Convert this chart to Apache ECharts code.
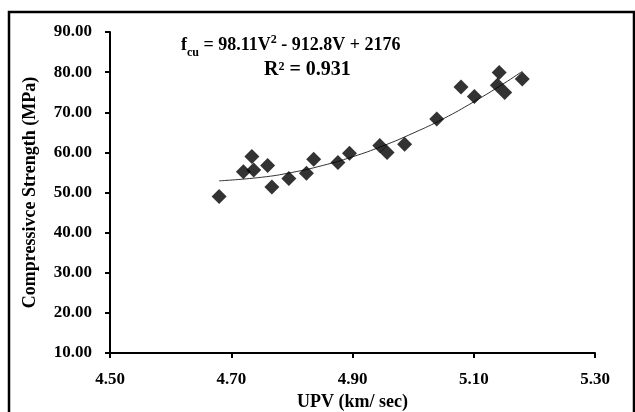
<!DOCTYPE html>
<html><head><meta charset="utf-8">
<script src="https://cdn.jsdelivr.net/npm/echarts@6/dist/echarts.min.js"></script>
<style>html,body{margin:0;padding:0;background:#fff;}#c{width:635px;height:412px;}</style>
</head><body><div id="c"></div>
<script>
// Measured data (UPV km/s, compressive strength MPa)
const upv = [4.68, 4.72, 4.734, 4.737, 4.76, 4.767, 4.795, 4.824, 4.836, 4.876, 4.895, 4.945, 4.957, 4.986, 5.039, 5.079, 5.101, 5.142, 5.139, 5.151, 5.18];
const strength = [49.0, 55.2, 59.0, 55.6, 56.7, 51.4, 53.5, 54.8, 58.3, 57.5, 59.8, 61.7, 60.0, 62.0, 68.3, 76.3, 73.9, 79.9, 76.7, 74.9, 78.3];
// Trend line points
const trendX = [4.68, 4.75, 4.80, 4.85, 4.90, 4.95, 5.00, 5.05, 5.10, 5.15, 5.18];
const trendY = [52.9, 53.8, 55.0, 56.7, 58.9, 61.6, 64.8, 68.4, 72.6, 77.2, 80.2];
const xTicks = [4.50, 4.70, 4.90, 5.10, 5.30];
const yTicks = [10, 20, 30, 40, 50, 60, 70, 80, 90];

const FF = '"Liberation Serif", "Times New Roman", serif';
const chart = echarts.init(document.getElementById('c'));
chart.setOption({
  animation: false,
  backgroundColor: '#fff',
  grid: { left: 110, right: 40, top: 32, bottom: 59, containLabel: false, outerBoundsMode: 'none' },
  xAxis: {
    type: 'value', min: xTicks[0], max: xTicks[xTicks.length - 1], interval: 0.2,
    splitLine: { show: false },
    axisLine: { onZero: false, lineStyle: { color: '#000', width: 2 } },
    axisTick: { show: true, length: 5, lineStyle: { color: '#000', width: 2 } },
    axisLabel: { color: '#000', fontFamily: FF, fontWeight: 'bold', fontSize: 17, margin: 18,
      formatter: v => v.toFixed(2) },
    name: 'UPV (km/ sec)', nameLocation: 'middle', nameGap: 38,
    nameTextStyle: { color: '#000', fontFamily: FF, fontWeight: 'bold', fontSize: 18 }
  },
  yAxis: {
    type: 'value', min: yTicks[0], max: yTicks[yTicks.length - 1], interval: 10,
    splitLine: { show: false },
    axisLine: { onZero: false, lineStyle: { color: '#000', width: 2 } },
    axisTick: { show: true, length: 5, lineStyle: { color: '#000', width: 2 } },
    axisLabel: { color: '#000', fontFamily: FF, fontWeight: 'bold', fontSize: 17, margin: 18,
      formatter: v => v.toFixed(2) },
    name: 'Compressivce Strength (MPa)', nameLocation: 'middle', nameGap: 71, nameRotate: 90,
    nameTextStyle: { color: '#000', fontFamily: FF, fontWeight: 'bold', fontSize: 18 }
  },
  series: [
    {
      type: 'line', data: trendX.map((x, i) => [x, trendY[i]]), smooth: true,
      showSymbol: false, symbol: 'none', lineStyle: { color: '#333', width: 1 }, z: 1
    },
    {
      type: 'scatter', data: upv.map((x, i) => [x, strength[i]]),
      symbol: 'diamond', symbolSize: 15, itemStyle: { color: '#000' }, z: 2
    }
  ],
  graphic: [
    { type: 'rect', shape: { x: 9, y: 12, width: 625, height: 410 },
      style: { fill: null, stroke: '#000', lineWidth: 2.5 }, silent: true },
    { type: 'text', left: 181, top: 34,
      style: { rich: {
          b: { fontFamily: FF, fontWeight: 'bold', fontSize: 18, fill: '#000' },
          s: { fontFamily: FF, fontWeight: 'bold', fontSize: 12, fill: '#000', verticalAlign: 'bottom', padding: [0,0,-5,0] },
          p: { fontFamily: FF, fontWeight: 'bold', fontSize: 12, fill: '#000', verticalAlign: 'top', padding: [-2,0,0,0] }
        },
        text: '{b|f}{s|cu}{b| = 98.11V}{p|2}{b| - 912.8V + 2176}' } },
    { type: 'text', left: 264, top: 60,
      style: { text: 'R² = 0.931', fontFamily: FF, fontWeight: 'bold', fontSize: 20, fill: '#000' } }
  ]
});
</script></body></html>
